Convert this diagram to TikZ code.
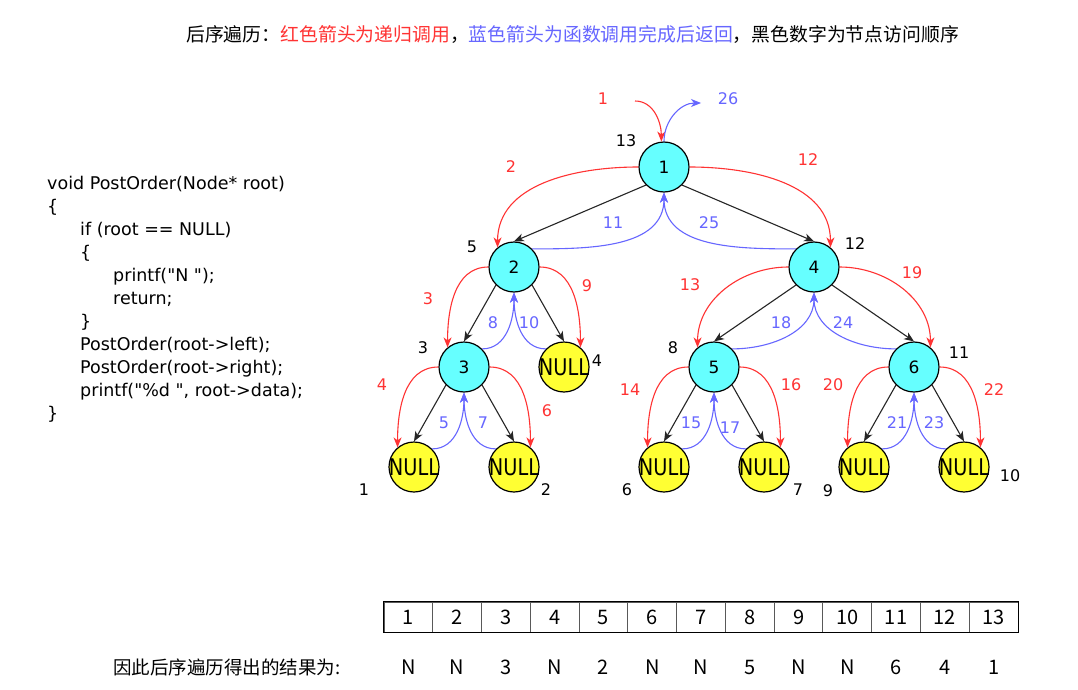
\documentclass[tikz,border=0pt]{standalone}
\usepackage{fontspec}
\usepackage{graphicx}
\setmainfont{DejaVu Sans}[Ligatures=TeXOff]
\newfontfamily\cjk{Noto Sans CJK SC}
\usetikzlibrary{arrows.meta}

\definecolor{callred}{RGB}{255,51,51}
\definecolor{retblue}{RGB}{102,102,255}
\definecolor{innerfill}{RGB}{102,255,255}
\definecolor{nullfill}{RGB}{255,255,51}

\newcommand\nulltext{\makebox[0pt]{\scalebox{0.84}[1]{\fontsize{23}{23}\selectfont NULL}}}

\tikzset{
  tip/.style={-{Stealth[length=10pt,width=8pt,inset=3pt]}},
  treenode/.style={circle, draw=black, line width=1.2pt, minimum size=50pt,
    inner sep=0pt, fill=innerfill, font=\fontsize{17}{17}\selectfont},
  nullnode/.style={treenode, fill=nullfill},
  linkarrow/.style={draw=black!85, line width=1.1pt, tip},
  callarrow/.style={draw=callred, line width=1.1pt, tip},
  retarrow/.style={draw=retblue, line width=1.1pt, tip},
  numlabel/.style={inner sep=0pt, font=\fontsize{16}{16}\selectfont},
  calllabel/.style={numlabel, text=callred},
  retlabel/.style={numlabel, text=retblue},
  orderlabel/.style={numlabel, text=black},
  cell/.style={draw=black!65, line width=1pt, minimum width=48.77pt,
    minimum height=30pt, inner sep=0pt, font=\cjk\fontsize{20}{20}\selectfont},
  resultlabel/.style={inner sep=0pt, font=\cjk\fontsize{20}{20}\selectfont},
}

\begin{document}
\begin{tikzpicture}[x=1pt,y=1pt]
\useasboundingbox (0,0) rectangle (1078,-690);
\fill[white] (0,0) rectangle (1078,-690);

% legend line
\node[anchor=west, inner sep=0pt, font=\cjk\fontsize{18.85}{19}\selectfont] (title) at (186,-35)
  {后序遍历：\textcolor{callred}{红色箭头为递归调用}，\textcolor{retblue}{蓝色箭头为函数调用完成后返回}，黑色数字为节点访问顺序};

% source code
\node[anchor=north west, inner sep=0pt, align=left,
      font=\fontsize{17.5}{23}\selectfont] (code) at (47,-176)
  {void PostOrder(Node* root)\\
   \{\\
   \hspace*{33pt}if (root == NULL)\\
   \hspace*{33pt}\{\\
   \hspace*{66pt}printf("N ");\\
   \hspace*{66pt}return;\\
   \hspace*{33pt}\}\\
   \hspace*{33pt}PostOrder(root->left);\\
   \hspace*{33pt}PostOrder(root->right);\\
   \hspace*{33pt}printf("\%d ", root->data);\\
   \}};

% tree
\node[treenode] (n1) at (664,-167) {1};
\node[treenode] (n2) at (514,-267) {2};
\node[treenode] (n4) at (814,-267) {4};
\node[treenode] (n3) at (464,-367) {3};
\node[nullnode] (nl4) at (564,-367) {\nulltext};
\node[treenode] (n5) at (714,-367) {5};
\node[treenode] (n6) at (914,-367) {6};
\node[nullnode] (nl1) at (414,-467) {\nulltext};
\node[nullnode] (nl2) at (514,-467) {\nulltext};
\node[nullnode] (nl6) at (664,-467) {\nulltext};
\node[nullnode] (nl7) at (764,-467) {\nulltext};
\node[nullnode] (nl9) at (864,-467) {\nulltext};
\node[nullnode] (nl10) at (964,-467) {\nulltext};

\coordinate (entry) at (635,-101);
\coordinate (exit) at (701,-103);

% parent-child links
\draw[linkarrow] (n1.south west) -- (n2.north);
\draw[linkarrow] (n1.south east) -- (n4.north);
\draw[linkarrow] (n2.south west) -- (n3.north);
\draw[linkarrow] (n2.south east) -- (nl4.north);
\draw[linkarrow] (n3.south west) -- (nl1.north);
\draw[linkarrow] (n3.south east) -- (nl2.north);
\draw[linkarrow] (n4.south west) -- (n5.north);
\draw[linkarrow] (n4.south east) -- (n6.north);
\draw[linkarrow] (n5.south west) -- (nl6.north);
\draw[linkarrow] (n5.south east) -- (nl7.north);
\draw[linkarrow] (n6.south west) -- (nl9.north);
\draw[linkarrow] (n6.south east) -- (nl10.north);

% recursive calls
\draw[callarrow] (entry) to[out=0,in=90] (n1.96);
\foreach \p/\c in {n1/n2, n2/n3, n3/nl1, n4/n5, n5/nl6, n6/nl9}
  \draw[callarrow] (\p.west) to[out=180,in=90] (\c.130);
\foreach \p/\c in {n1/n4, n2/nl4, n3/nl2, n4/n6, n5/nl7, n6/nl10}
  \draw[callarrow] (\p.east) to[out=0,in=90] (\c.50);

% returns
\draw[retarrow] (n1.north) to[out=90,in=180] (exit);
\foreach \p/\c in {n1/n2, n2/n3, n3/nl1, n4/n5, n5/nl6, n6/nl9}
  \draw[retarrow] (\c.45) to[out=0,in=-90] (\p.south);
\foreach \p/\c in {n1/n4, n2/nl4, n3/nl2, n4/n6, n5/nl7, n6/nl10}
  \draw[retarrow] (\c.135) to[out=180,in=-90] (\p.south);

% call step numbers
\node[calllabel] (k1) at (603,-99) {1};
\node[calllabel] (k2) at (511,-167) {2};
\node[calllabel] (k12) at (808,-160) {12};
\node[calllabel] (k3) at (428,-299) {3};
\node[calllabel] (k9) at (587,-286) {9};
\node[calllabel] (k4) at (382,-385) {4};
\node[calllabel] (k6) at (547,-411) {6};
\node[calllabel] (k13) at (690,-285) {13};
\node[calllabel] (k19) at (912,-273) {19};
\node[calllabel] (k14) at (630,-390) {14};
\node[calllabel] (k16) at (791,-385) {16};
\node[calllabel] (k20) at (833,-385) {20};
\node[calllabel] (k22) at (994,-390) {22};

% return step numbers
\node[retlabel] (b26) at (728,-99) {26};
\node[retlabel] (b11) at (613,-223) {11};
\node[retlabel] (b25) at (709,-223) {25};
\node[retlabel] (b8) at (493,-323) {8};
\node[retlabel] (b10) at (529,-323) {10};
\node[retlabel] (b5) at (444,-423) {5};
\node[retlabel] (b7) at (483,-423) {7};
\node[retlabel] (b15) at (691,-423) {15};
\node[retlabel] (b17) at (730,-428) {17};
\node[retlabel] (b18) at (781,-323) {18};
\node[retlabel] (b24) at (843,-323) {24};
\node[retlabel] (b21) at (897,-423) {21};
\node[retlabel] (b23) at (934,-423) {23};

% visiting order
\node[orderlabel] (o13) at (626,-141) {13};
\node[orderlabel] (o5) at (472,-247) {5};
\node[orderlabel] (o12) at (855,-244) {12};
\node[orderlabel] (o3) at (423,-348) {3};
\node[orderlabel] (o4) at (597,-361) {4};
\node[orderlabel] (o1) at (364,-490) {1};
\node[orderlabel] (o2) at (546,-490) {2};
\node[orderlabel] (o8) at (673,-348) {8};
\node[orderlabel] (o11) at (959,-353) {11};
\node[orderlabel] (o6) at (627,-490) {6};
\node[orderlabel] (o7) at (798,-490) {7};
\node[orderlabel] (o9) at (828,-491) {9};
\node[orderlabel] (o10) at (1010,-476) {10};

% order table and printed result
\foreach \v [count=\i] in {1,...,13}
  \node[cell] (c\i) at ({384+48.77*(\i-0.5)},-617) {\v};
\draw[black, line width=1.3pt] (c1.north west) rectangle (c13.south east);
\foreach \v [count=\i] in {N,N,3,N,2,N,N,5,N,N,6,4,1}
  \node[resultlabel] (r\i) at ({384+48.77*(\i-0.5)},-667) {\v};
\node[anchor=west, inner sep=0pt, font=\cjk\fontsize{18.5}{19}\selectfont] (result) at (113,-667)
  {因此后序遍历得出的结果为:};
\end{tikzpicture}
\end{document}
